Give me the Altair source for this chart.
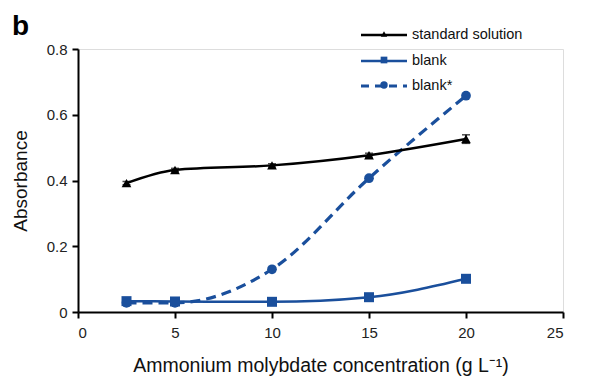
import altair as alt
import pandas as pd

conc = [2.5, 5, 10, 15, 20]
standard = [0.392, 0.432, 0.446, 0.477, 0.526]
standard_err = [0.005, 0.005, 0.005, 0.006, 0.013]
blank = [0.033, 0.032, 0.031, 0.045, 0.101]
blank_star = [0.028, 0.028, 0.130, 0.407, 0.658]

series_names = ["standard solution", "blank", "blank*"]
BLUE = "#1A4F9C"
FONT = "Liberation Sans"

df_std = pd.DataFrame({"x": conc, "y": standard, "lo": [a - e for a, e in zip(standard, standard_err)],
                       "hi": [a + e for a, e in zip(standard, standard_err)]})
df_blank = pd.DataFrame({"x": conc, "y": blank})
df_star = pd.DataFrame({"x": conc, "y": blank_star})

xs = alt.Scale(domain=[0, 25], nice=False)
ys = alt.Scale(domain=[0, 0.8], nice=False)

xax = alt.Axis(values=[0, 5, 10, 15, 20, 25], format="d", grid=False, domainColor="black",
               domainWidth=2, tickColor="black", tickWidth=2, tickSize=6,
               labelFont=FONT, labelFontSize=15, labelColor="#222", labelPadding=7,
               title="Ammonium molybdate concentration (g L⁻¹)", titleFont=FONT,
               titleFontSize=19.5, titleFontWeight="normal", titleColor="#111", titlePadding=16)
yax = alt.Axis(values=[0, 0.2, 0.4, 0.6, 0.8], grid=False, domainColor="black",
               domainWidth=2, tickColor="black", tickWidth=2, tickSize=6,
               labelFont=FONT, labelFontSize=15, labelColor="#222", labelPadding=5,
               labelExpr="datum.value == 0 ? '0' : format(datum.value, '.1f')",
               title="Absorbance", titleFont=FONT, titleFontSize=19,
               titleFontWeight="normal", titleColor="#111", titlePadding=16)

X = alt.X("x:Q", scale=xs, axis=xax)
Y = alt.Y("y:Q", scale=ys, axis=yax)
Xn = alt.X("x:Q", scale=xs, title="Ammonium molybdate concentration (g L⁻¹)")
Yn = alt.Y("y:Q", scale=ys, title="Absorbance")

std_line = alt.Chart(df_std).mark_line(color="black", strokeWidth=2.5, interpolate="monotone").encode(x=X, y=Y)
std_err = alt.Chart(df_std).mark_errorbar(color="black", ticks=alt.TickConfig(size=8, thickness=1.5), thickness=1.5).encode(
    x=Xn, y=alt.Y("lo:Q", scale=ys, title="Absorbance"), y2="hi:Q")
std_pts = alt.Chart(df_std).mark_point(shape="triangle-up", filled=True, color="black", size=95, opacity=1).encode(x=Xn, y=Yn)

bl_line = alt.Chart(df_blank).mark_line(color=BLUE, strokeWidth=2.5, interpolate="monotone").encode(x=Xn, y=Yn)
bl_pts = alt.Chart(df_blank).mark_point(shape="square", filled=True, color=BLUE, size=100, opacity=1).encode(x=Xn, y=Yn)

st_line = alt.Chart(df_star).mark_line(color=BLUE, strokeWidth=3.2, strokeDash=[10, 6], interpolate="monotone").encode(x=Xn, y=Yn)
st_pts = alt.Chart(df_star).mark_point(shape="circle", filled=True, color=BLUE, size=95, opacity=1).encode(x=Xn, y=Yn)

# manual legend
leg_df = pd.DataFrame({"name": series_names, "row": [0, 1, 2]})
leg_y = [-14, 12, 37]
legend_layers = []
styles = [("black", None, "triangle-up", 40), (BLUE, None, "square", 45), (BLUE, [8, 6], "circle", 55)]
for i, (name, (col, dash, shape, sz)) in enumerate(zip(series_names, styles)):
    d = leg_df.iloc[[i]]
    rkw = dict(color=col, strokeWidth=2.5)
    if dash:
        rkw["strokeDash"] = dash
        rkw["strokeWidth"] = 3
    legend_layers.append(alt.Chart(d).mark_rule(**rkw).encode(
        x=alt.value(283), x2=alt.value(329), y=alt.value(leg_y[i])))
    legend_layers.append(alt.Chart(d).mark_point(shape=shape, filled=True, color=col, size=sz, opacity=1).encode(
        x=alt.value(306), y=alt.value(leg_y[i] - 1)))
    legend_layers.append(alt.Chart(d).mark_text(align="left", baseline="middle", font=FONT, fontSize=14.5, color="#111").encode(
        x=alt.value(334), y=alt.value(leg_y[i]), text="name:N"))

label_b = alt.Chart(pd.DataFrame({"t": ["b"]})).mark_text(
    align="left", baseline="alphabetic", font=FONT, fontSize=28, fontWeight="bold", color="black").encode(
    x=alt.value(-66), y=alt.value(-14), text="t:N")

chart = alt.layer(st_line, bl_line, std_line, std_err, std_pts, bl_pts, st_pts, *legend_layers, label_b).properties(
    width=485, height=263,
    autosize=alt.AutoSizeParams(type="none"),
    padding={"left": 78, "top": 49, "right": 47, "bottom": 65},
).configure_view(stroke=None).configure(background="white")

chart.save("out.html", embed_options={"renderer": "svg", "actions": False})
